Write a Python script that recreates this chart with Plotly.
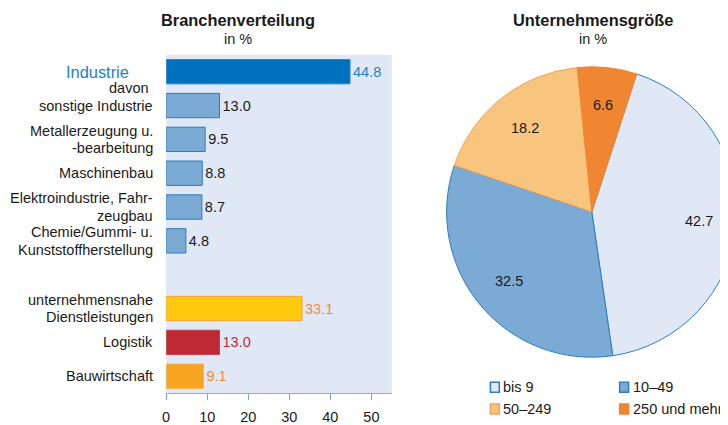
import math
import plotly.graph_objects as go

# ---------------- data ----------------
bar_labels = [
    "Industrie",
    "davon\u00a0<br>sonstige Industrie",
    "Metallerzeugung u.<br>-bearbeitung",
    "Maschinenbau",
    "Elektroindustrie, Fahr-<br>zeugbau",
    "Chemie/Gummi- u.<br>Kunststoffherstellung",
    "unternehmensnahe<br>Dienstleistungen",
    "Logistik",
    "Bauwirtschaft",
]
bar_values = [44.8, 13.0, 9.5, 8.8, 8.7, 4.8, 33.1, 13.0, 9.1]

pie_labels = ["bis 9", "10\u201349", "50\u2013249", "250 und mehr"]
pie_values = [42.7, 32.5, 18.2, 6.6]

x_ticks = [0, 10, 20, 30, 40, 50]

# ---------------- styles ----------------
FONT = "Liberation Sans, Arial, sans-serif"
FS = 14.5      # normal text size
FT = 16.4      # titles / "Industrie"
LINE = 17.5    # line spacing of two-line category labels
# the page places the figure with a small offset; positions below are given
# in window pixels and converted to paper fractions with that offset
OFFX, OFFY = 11, 8
W, H = 732, 417
SPACER = " "
cat_order = bar_labels[:6] + [SPACER] + bar_labels[6:]

bar_fill = ["#0071BC", "#7BAAD4", "#7BAAD4", "#7BAAD4", "#7BAAD4", "#7BAAD4",
            "#FFC90E", "#BD2A33", "#F7A521"]
bar_line = ["#2A86CC", "#2A7BC0", "#2A7BC0", "#2A7BC0", "#2A7BC0", "#2A7BC0",
            "#F5A33A", "#C4444B", "#F7B35A"]
val_color = ["#1F80C8", "#1a1a1a", "#1a1a1a", "#1a1a1a", "#1a1a1a", "#1a1a1a",
             "#F08A3C", "#BD2A33", "#F08A3C"]

pie_fill = ["#E0E8F5", "#7BAAD4", "#F8C57F", "#F08632"]
pie_line = ["#2A7EC3", "#2A7EC3", "#F5A05A", "#F08632"]
PIE_ROT = 18
PIE_L, PIE_R, PIE_T, PIE_B = 448, 740, 67, 359


def px_x(p):
    return (p - OFFX) / W


def px_y(p):
    return (H - (p - OFFY)) / H


fig = go.Figure()

fig.add_trace(go.Bar(
    x=bar_values,
    y=bar_labels,
    orientation="h",
    width=0.72,
    marker=dict(color=bar_fill, line=dict(color=bar_line, width=1)),
    text=[f"{v:.1f}" for v in bar_values],
    textposition="outside",
    textfont=dict(color=val_color, size=FS, family=FONT),
    constraintext="none",
    cliponaxis=False,
    showlegend=False,
    hoverinfo="skip",
))

fig.add_trace(go.Pie(
    labels=pie_labels,
    values=pie_values,
    sort=False,
    direction="clockwise",
    rotation=PIE_ROT,
    marker=dict(colors=pie_fill, line=dict(color=pie_line, width=1)),
    textinfo="none",
    domain=dict(x=[px_x(PIE_L), min(1.0, px_x(PIE_R))],
                y=[px_y(PIE_B), px_y(PIE_T)]),
    showlegend=False,
    hoverinfo="skip",
))

annotations = []
shapes = []

# category labels (each line placed separately for tight line spacing)
for i, lab in enumerate(bar_labels):
    if i == 0:
        annotations.append(dict(xref="paper", yref="y", x=px_x(131), y=lab,
                                text=lab, showarrow=False, xanchor="right",
                                yanchor="middle",
                                font=dict(size=FT, color="#1F80C8", family=FONT)))
        continue
    lines = lab.split("<br>")
    n = len(lines)
    for j, line in enumerate(lines):
        if i == 1:
            shift = (n - 1 - j) * LINE          # "davon" sits above the bar row
        else:
            shift = ((n - 1) / 2 - j) * LINE
        annotations.append(dict(xref="paper", yref="y", x=px_x(155), y=lab,
                                text=line, showarrow=False, xanchor="right",
                                yanchor="middle", yshift=shift,
                                font=dict(size=FS, color="#1a1a1a", family=FONT)))

# titles
for cx, title in [(238, "Branchenverteilung"), (595, "Unternehmensgröße")]:
    annotations.append(dict(xref="paper", yref="paper", x=px_x(cx), y=px_y(20),
                            text=f"<b>{title}</b>", showarrow=False,
                            xanchor="center", yanchor="middle",
                            font=dict(size=FT, color="#1a1a1a", family=FONT)))
    annotations.append(dict(xref="paper", yref="paper", x=px_x(cx), y=px_y(39),
                            text="in %", showarrow=False,
                            xanchor="center", yanchor="middle",
                            font=dict(size=FS, color="#1a1a1a", family=FONT)))

# pie value labels, placed along each slice's mid-angle
cx_p = (PIE_L + PIE_R) / 2
cy_p = (PIE_T + PIE_B) / 2
rad = (PIE_R - PIE_L) / 2
total = sum(pie_values)
cum = 0.0
for v in pie_values:
    mid = math.radians(PIE_ROT + (cum + v / 2) / total * 360)
    cum += v
    rr = rad * 0.74
    annotations.append(dict(xref="paper", yref="paper",
                            x=px_x(cx_p + rr * math.sin(mid)),
                            y=px_y(cy_p - rr * math.cos(mid)),
                            text=f"{v:.1f}", showarrow=False,
                            xanchor="center", yanchor="middle",
                            font=dict(size=FS, color="#1a1a1a", family=FONT)))

# legend (2 x 2)
leg_cols = [492, 622]
leg_rows = [389, 411]
for k, lab in enumerate(pie_labels):
    lx = leg_cols[k % 2]
    ly = leg_rows[k // 2]
    shapes.append(dict(type="rect", xref="paper", yref="paper",
                       x0=px_x(lx), x1=px_x(lx + 9),
                       y0=px_y(ly + 5), y1=px_y(ly - 5),
                       fillcolor=pie_fill[k],
                       line=dict(color=pie_line[k], width=1.5)))
    annotations.append(dict(xref="paper", yref="paper", x=px_x(lx + 11),
                            y=px_y(ly), text=lab, showarrow=False,
                            xanchor="left", yanchor="middle",
                            font=dict(size=FS, color="#1a1a1a", family=FONT)))

fig.update_layout(
    width=W, height=H,
    margin=dict(l=0, r=0, t=0, b=0),
    paper_bgcolor="white",
    plot_bgcolor="#E1E8F5",
    font=dict(family=FONT, size=FS, color="#1a1a1a"),
    showlegend=False,
    xaxis=dict(
        domain=[px_x(166), px_x(393)],
        range=[0, 55],
        tickvals=x_ticks,
        ticks="outside", ticklen=6, tickcolor="#7F9FD6", tickwidth=1,
        ticklabelstandoff=4,
        showline=True, linecolor="#8FA9DA", linewidth=1,
        showgrid=False, zeroline=False,
        tickfont=dict(size=FS, color="#1a1a1a", family=FONT),
        fixedrange=True,
    ),
    yaxis=dict(
        domain=[px_y(395), px_y(55)],
        type="category",
        categoryorder="array",
        categoryarray=cat_order,
        range=[len(cat_order) - 0.5, -0.5],
        showticklabels=False,
        showgrid=False, zeroline=False, showline=False,
        ticks="",
        fixedrange=True,
    ),
    annotations=annotations,
    shapes=shapes,
)

fig.write_html("out.html")
